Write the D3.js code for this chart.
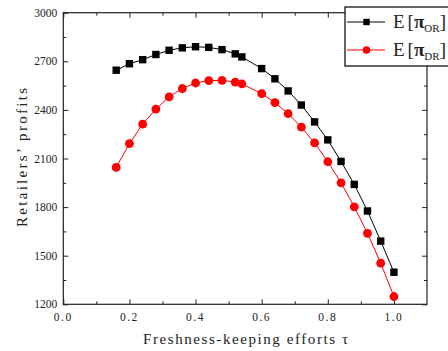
<!DOCTYPE html>
<html>
<head>
<meta charset="utf-8">
<script src="https://cdn.jsdelivr.net/npm/d3@7"></script>
<style>
  body { margin: 0; background: #fff; }
  text { font-family: "Liberation Serif", serif; fill: #222; }
</style>
</head>
<body>
<script>
// effort levels (x) and the two profit series
var tau = [0.16, 0.20, 0.24, 0.28, 0.32, 0.36, 0.40, 0.44, 0.48, 0.52, 0.54,
           0.60, 0.64, 0.68, 0.72, 0.76, 0.80, 0.84, 0.88, 0.92, 0.96, 1.00]
var piOR = [2645, 2685, 2710, 2742, 2768, 2783, 2790, 2786, 2772, 2746, 2727,
            2655, 2592, 2517, 2430, 2326, 2215, 2082, 1940, 1776, 1590, 1398]
var piDR = [2045, 2192, 2312, 2405, 2481, 2532, 2566, 2581, 2582, 2572, 2561,
            2500, 2445, 2377, 2294, 2196, 2080, 1950, 1802, 1638, 1454, 1248]
var xTicks = [0, 0.2, 0.4, 0.6, 0.8, 1.0]
var yTicks = [1200, 1500, 1800, 2100, 2400, 2700, 3000]

var margin = {top: 12.7, right: 21, bottom: 46.7, left: 63.3}
var W = 448, H = 351
var width = W - margin.left - margin.right
var height = H - margin.top - margin.bottom

var svg = d3.select("body").append("svg")
    .attr("width", W).attr("height", H)
var g = svg.append("g")
    .attr("transform", "translate(" + margin.left + "," + margin.top + ")")

var x = d3.scaleLinear().domain([0, 1.1]).range([0, width])
var y = d3.scaleLinear().domain([1200, 3000]).range([height, 0])

var xMinor = d3.range(0.1, 1.1, 0.2)
var yMinor = d3.range(1350, 3000, 300)

// ticks on all four sides, pointing inward
function ticks(axis, vals, size) {
    return axis.tickValues(vals).tickSize(size).tickFormat("")
}
g.append("g").attr("class", "ax").attr("transform", "translate(0," + height + ")")
    .call(ticks(d3.axisTop(x), xTicks, 5))
g.append("g").attr("class", "ax").attr("transform", "translate(0," + height + ")")
    .call(ticks(d3.axisTop(x), xMinor, 3))
g.append("g").attr("class", "ax")
    .call(ticks(d3.axisBottom(x), xTicks, 5))
g.append("g").attr("class", "ax")
    .call(ticks(d3.axisBottom(x), xMinor, 3))
g.append("g").attr("class", "ax")
    .call(ticks(d3.axisRight(y), yTicks, 5))
g.append("g").attr("class", "ax")
    .call(ticks(d3.axisRight(y), yMinor, 3))
g.append("g").attr("class", "ax").attr("transform", "translate(" + width + ",0)")
    .call(ticks(d3.axisLeft(y), yTicks, 5))
g.append("g").attr("class", "ax").attr("transform", "translate(" + width + ",0)")
    .call(ticks(d3.axisLeft(y), yMinor, 3))
g.selectAll(".ax path").remove()
g.selectAll(".ax line").attr("stroke", "#222")

g.append("rect")
    .attr("width", width).attr("height", height)
    .attr("fill", "none").attr("stroke", "#222").attr("stroke-width", 1.2)

// tick labels
g.selectAll(".xl").data(xTicks).enter().append("text")
    .attr("x", d => x(d)).attr("y", height + 17)
    .attr("text-anchor", "middle").style("font-size", "11.5px")
    .style("letter-spacing", "1.5px")
    .text(d => d3.format(".1f")(d))
g.selectAll(".yl").data(yTicks).enter().append("text")
    .attr("x", -6).attr("y", d => y(d)).attr("dy", "0.35em")
    .attr("text-anchor", "end").style("font-size", "11.5px")
    .text(d => d)

// axis titles
svg.append("text")
    .attr("x", 143).attr("y", 344)
    .attr("textLength", 205).attr("lengthAdjust", "spacing")
    .style("font-size", "15px")
    .text("Freshness-keeping efforts τ")
svg.append("text")
    .attr("transform", "translate(27,227) rotate(-90)")
    .attr("textLength", 139).attr("lengthAdjust", "spacing")
    .style("font-size", "15px")
    .text("Retailers’ profits")

var datos = tau.map((t, i) => ({t: t, or: piOR[i], dr: piDR[i]}))

var lineOR = d3.line().x(d => x(d.t)).y(d => y(d.or))
var lineDR = d3.line().x(d => x(d.t)).y(d => y(d.dr))

g.append("path").datum(datos)
    .attr("fill", "none").attr("stroke", "#000").attr("stroke-width", 1)
    .attr("d", lineOR)
g.append("path").datum(datos)
    .attr("fill", "none").attr("stroke", "#f00").attr("stroke-width", 1)
    .attr("d", lineDR)

g.append("g").selectAll("rect").data(datos).enter().append("rect")
    .attr("x", d => x(d.t) - 3.7).attr("y", d => y(d.or) - 3.7)
    .attr("width", 7.4).attr("height", 7.4).attr("fill", "#000")
g.append("g").selectAll("circle").data(datos).enter().append("circle")
    .attr("cx", d => x(d.t)).attr("cy", d => y(d.dr))
    .attr("r", 4.4).attr("fill", "#f00")

// legend
var leg = svg.append("g")
leg.append("rect")
    .attr("x", 345).attr("y", 7).attr("width", 110).attr("height", 59)
    .attr("fill", "#fff").attr("stroke", "#000").attr("stroke-width", 1.2)
var items = [{c: "#000", sub: "OR", sq: true, yy: 22}, {c: "#f00", sub: "DR", sq: false, yy: 50}]
items.forEach(function (it) {
    leg.append("line").attr("x1", 347).attr("x2", 385)
        .attr("y1", it.yy).attr("y2", it.yy).attr("stroke", it.c).attr("stroke-width", 1)
    if (it.sq) {
        leg.append("rect").attr("x", 366.5 - 3.2).attr("y", it.yy - 3.2)
            .attr("width", 6.4).attr("height", 6.4).attr("fill", it.c)
    } else {
        leg.append("circle").attr("cx", 366.5).attr("cy", it.yy).attr("r", 3.8).attr("fill", it.c)
    }
    var t = leg.append("text").attr("x", 393).attr("y", it.yy + 6)
        .style("font-size", "19px")
    t.append("tspan").text("E")
    t.append("tspan").attr("dx", 3).text("[")
    t.append("tspan").style("font-weight", "bold").text("π")
    t.append("tspan").attr("dy", 4).style("font-size", "11px").text(it.sub)
    t.append("tspan").attr("dy", -4).text("]")
})
</script>
</body>
</html>
